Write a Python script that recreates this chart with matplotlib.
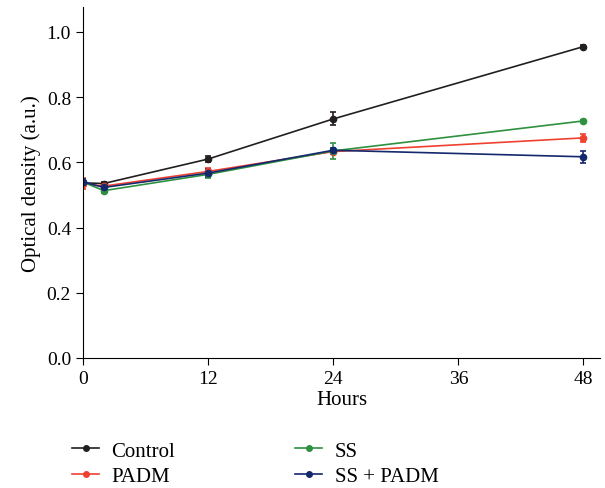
import numpy as np
import matplotlib.pyplot as plt
from matplotlib.lines import Line2D

plt.rcParams['font.family'] = ['Liberation Serif', 'DejaVu Serif']

hours = [0, 2, 12, 24, 48]
control = [0.537, 0.535, 0.610, 0.733, 0.955]
control_err = [0.010, 0.006, 0.008, 0.020, 0.005]
padm = [0.535, 0.527, 0.572, 0.633, 0.675]
padm_err = [0.018, 0.008, 0.010, 0.008, 0.012]
ss = [0.540, 0.513, 0.563, 0.635, 0.727]
ss_err = [0.010, 0.006, 0.010, 0.025, 0.004]
sspadm = [0.540, 0.523, 0.567, 0.637, 0.617]
sspadm_err = [0.010, 0.010, 0.013, 0.008, 0.018]

series = [
  ('Control', control, control_err, '#231f20'),
  ('PADM', padm, padm_err, '#ef4130'),
  ('SS', ss, ss_err, '#2e9140'),
  ('SS + PADM', sspadm, sspadm_err, '#14286e'),
]

fig = plt.figure(figsize=(6.05, 4.89), dpi=100)
ax = fig.add_axes([0.137, 0.266, 0.855, 0.718])

handles = []
for name, y, e, c in series:
  ax.errorbar(hours, y, yerr=e, color=c, marker='o', markersize=4.5,
              linewidth=1.2, capsize=2.5, elinewidth=1.2, capthick=1.2)
  handles.append(Line2D([], [], color=c, marker='o', markersize=4, linewidth=1.2, label=name))

ax.set_xlim(0, 49.6)
ax.set_ylim(0, 1.077)
ax.set_xticks([0, 12, 24, 36, 48])
ax.set_yticks(np.arange(0, 1.01, 0.2))
ax.yaxis.set_major_formatter(plt.FormatStrFormatter('%.1f'))
ax.spines['top'].set_visible(False)
ax.spines['right'].set_visible(False)
ax.tick_params(labelsize=14, direction='out', length=5)
ax.set_xlabel('Hours', fontsize=15, labelpad=2)
ax.set_ylabel('Optical density (a.u.)', fontsize=15)

fig.legend(handles=handles, loc='lower left', bbox_to_anchor=(0.088, -0.035), ncol=2,
           frameon=False, fontsize=15, columnspacing=5.75, handlelength=1.3,
           handletextpad=0.6, labelspacing=0.3)

fig.savefig('out.png', dpi=100)
